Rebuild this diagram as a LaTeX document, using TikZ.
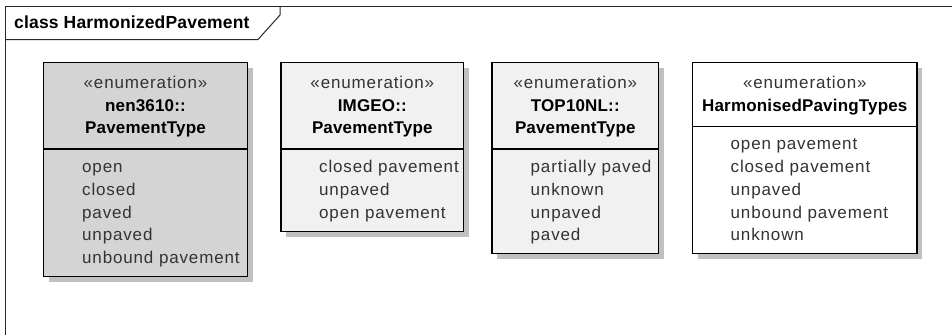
\documentclass[tikz,border=0pt]{standalone}
\usepackage{fontspec}
\setmainfont{Liberation Sans}[LetterSpace=5, BoldFeatures={LetterSpace=1}]
\usetikzlibrary{shadows}
\definecolor{frameline}{RGB}{40,40,40}
\definecolor{fillA}{RGB}{212,212,212}
\definecolor{fillB}{RGB}{241,241,241}
\definecolor{shadowc}{RGB}{192,192,192}
\definecolor{txt}{RGB}{51,51,51}
\begin{document}
\begin{tikzpicture}[x=1pt,y=-1pt,
  enumbox/.style={draw=black, line width=1.6pt, anchor=north west, inner sep=0pt, outer sep=0pt,
    general shadow={fill=shadowc, shadow xshift=5pt, shadow yshift=-5pt}},
  divider/.style={draw=black, line width=1.3pt},
  stereo/.style={anchor=base, text=txt, font=\fontsize{17}{19}\selectfont, inner sep=0pt},
  ename/.style={anchor=base, text=black, font=\fontsize{17}{19}\selectfont\bfseries, inner sep=0pt},
  lit/.style={anchor=base west, text=txt, font=\fontsize{17}{19}\selectfont, inner sep=0pt},
  framestyle/.style={draw=frameline, line width=1pt},
]
\useasboundingbox (0,0) rectangle (952,335);
% frame
\draw[framestyle] (5.5,335) -- (5.5,6.5) -- (952,6.5);
\draw[framestyle] (5.5,39.5) -- (258,39.5) -- (280,15) -- (280,6.5);
\node[anchor=base west, inner sep=0pt, font=\fontsize{17.5}{19}\selectfont\bfseries] (title) at (14,28.5) {class HarmonizedPavement};

% box 1
\node[enumbox, fill=fillA, minimum width=204pt, minimum height=214pt] (nen) at (43.5,62.5) {};
\draw[divider] (nen.west |- 0,149) -- (nen.east |- 0,149);
\node[stereo] (nenS) at (145.5,88) {«enumeration»};
\node[ename] (nenN1) at (145.5,111.5) {nen3610::};
\node[ename] (nenN2) at (145.5,133.5) {PavementType};
\node[lit] (nenA1) at (82,172) {open};
\node[lit] (nenA2) at (82,195) {closed};
\node[lit] (nenA3) at (82,218) {paved};
\node[lit] (nenA4) at (82,240) {unpaved};
\node[lit] (nenA5) at (82,263) {unbound pavement};

% box 2
\node[enumbox, fill=fillB, minimum width=182.5pt, minimum height=169pt] (img) at (281,62.5) {};
\draw[divider] (img.west |- 0,149) -- (img.east |- 0,149);
\node[stereo] (imgS) at (372.3,88) {«enumeration»};
\node[ename] (imgN1) at (372.3,111.5) {IMGEO::};
\node[ename] (imgN2) at (372.3,133.5) {PavementType};
\node[lit] (imgA1) at (319,172) {closed pavement};
\node[lit] (imgA2) at (319,195) {unpaved};
\node[lit] (imgA3) at (319,218) {open pavement};

% box 3
\node[enumbox, fill=fillB, minimum width=166.5pt, minimum height=191pt] (top) at (492,62.5) {};
\draw[divider] (top.west |- 0,149) -- (top.east |- 0,149);
\node[stereo] (topS) at (575.3,88) {«enumeration»};
\node[ename] (topN1) at (575.3,111.5) {TOP10NL::};
\node[ename] (topN2) at (575.3,133.5) {PavementType};
\node[lit] (topA1) at (530.5,172) {partially paved};
\node[lit] (topA2) at (530.5,195) {unknown};
\node[lit] (topA3) at (530.5,218) {unpaved};
\node[lit] (topA4) at (530.5,240) {paved};

% box 4
\node[enumbox, fill=white, minimum width=224.5pt, minimum height=191pt] (har) at (692.5,62.5) {};
\draw[divider] (har.west |- 0,126.5) -- (har.east |- 0,126.5);
\node[stereo] (harS) at (804.8,88) {«enumeration»};
\node[ename] (harN) at (804.8,111.5) {HarmonisedPavingTypes};
\node[lit] (harA1) at (730.5,149.5) {open pavement};
\node[lit] (harA2) at (730.5,172) {closed pavement};
\node[lit] (harA3) at (730.5,195) {unpaved};
\node[lit] (harA4) at (730.5,218) {unbound pavement};
\node[lit] (harA5) at (730.5,240) {unknown};
\end{tikzpicture}
\end{document}
